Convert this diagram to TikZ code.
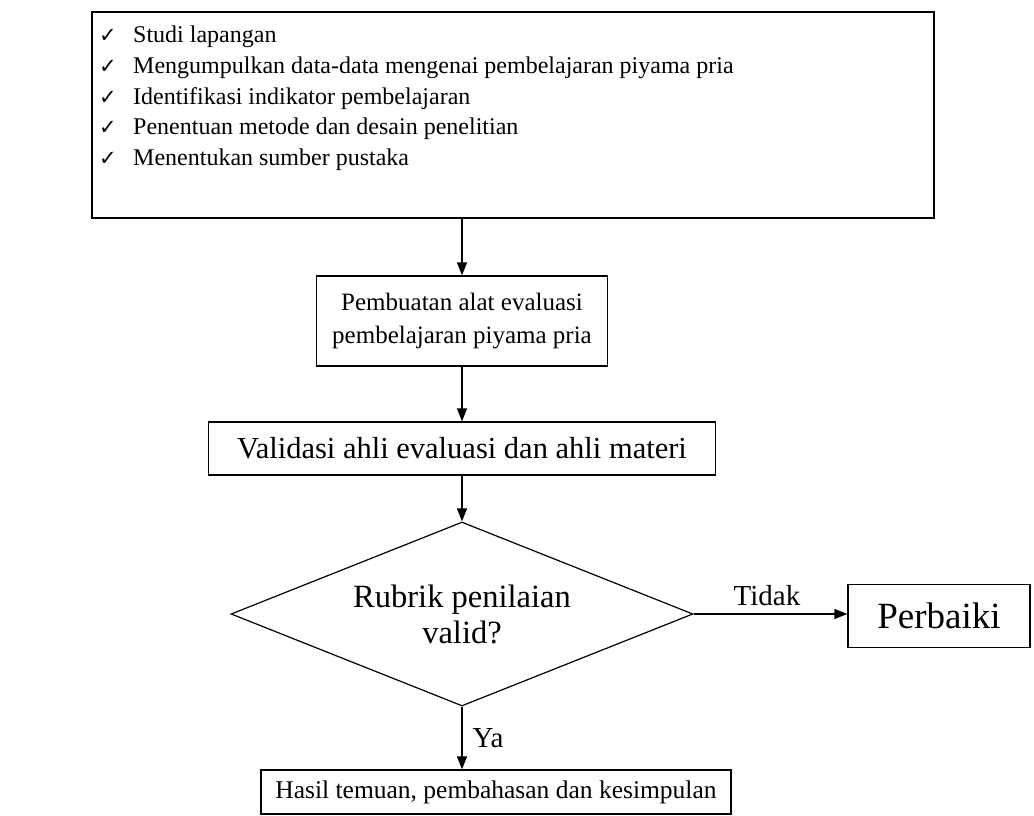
\documentclass[tikz,border=0pt]{standalone}
\usepackage{fontspec}
\setmainfont{Liberation Serif}
\newfontfamily\ckfont{DejaVu Sans}
\usetikzlibrary{shapes.geometric,arrows.meta}
\newcommand{\ckmark}{\makebox[34pt][l]{\ckfont\fontsize{21}{21}\selectfont ✓}}
\newcommand{\fsz}[2]{\fontsize{#1}{#2}\selectfont}
\begin{document}
\begin{tikzpicture}[x=1pt,y=-1pt,
  box/.style={draw, line width=1.2pt, inner sep=0pt, align=center, font=\fsz{25}{33}},
  txt/.style={inner sep=0pt, font=\fsz{29}{33}},
  listtxt/.style={inner sep=0pt, anchor=base west, font=\fsz{24}{30}},
  arr/.style={line width=1.3pt, -{Triangle[length=13pt,width=10pt]}}]
\useasboundingbox (0,0) rectangle (1034,816);
% top box with list
\node[box, minimum width=842pt, minimum height=206pt] (top) at (513,115) {};
\node[listtxt] (l1) at (99,43)  {\ckmark Studi lapangan};
\node[listtxt] (l2) at (99,73.5)  {\ckmark Mengumpulkan data-data mengenai pembelajaran piyama pria};
\node[listtxt] (l3) at (99,104)  {\ckmark Identifikasi indikator pembelajaran};
\node[listtxt] (l4) at (99,134.5) {\ckmark Penentuan metode dan desain penelitian};
\node[listtxt] (l5) at (99,165) {\ckmark Menentukan sumber pustaka};
% process boxes
\node[box, minimum width=291pt, minimum height=90pt] (b2) at (462,321) {Pembuatan alat evaluasi\\pembelajaran piyama pria};
\node[box, minimum width=507pt, minimum height=53pt, font=\fsz{30.5}{33}] (b3) at (462,448.5) {Validasi ahli evaluasi dan ahli materi};
\node[diamond, draw, line width=1.2pt, aspect=2.5, minimum width=462pt, minimum height=184pt, inner sep=0pt, align=center, font=\fsz{32.5}{36}] (dec) at (462,614) {Rubrik penilaian\\valid?};
\node[box, minimum width=182pt, minimum height=63pt, font=\fsz{37}{37}] (perb) at (939,616) {Perbaiki};
\node[box, minimum width=470pt, minimum height=44pt, font=\fsz{25.5}{33}] (bot) at (496,792) {Hasil temuan, pembahasan dan kesimpulan};
% labels
\node[txt] (tidak) at (767,596) {Tidak};
\node[txt] (ya) at (488,738) {Ya};
% connectors
\draw[arr] (top.south -| b2.north) -- (b2.north);
\draw[arr] (b2.south) -- (b3.north);
\draw[arr] (b3.south) -- (dec.north);
\draw[arr] (dec.east) -- (dec.east -| perb.west);
\draw[arr] (dec.south) -- (dec.south |- bot.north);
\end{tikzpicture}
\end{document}
